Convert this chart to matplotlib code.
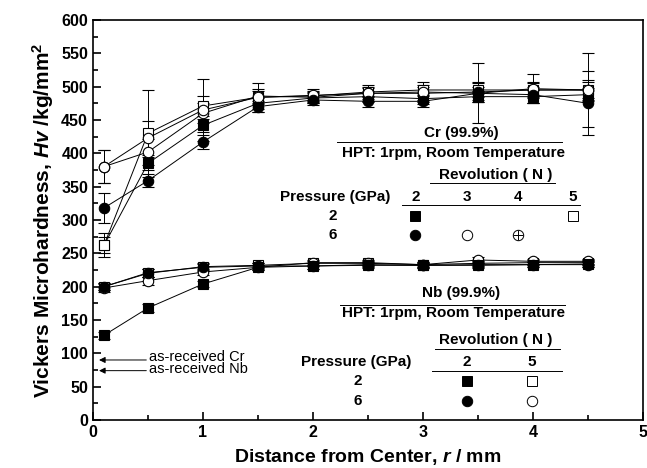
import numpy as np
import matplotlib
matplotlib.use("Agg")
import matplotlib.pyplot as plt

plt.rcParams['font.family'] = ['Liberation Sans', 'DejaVu Sans']
plt.rcParams['mathtext.fontset'] = 'custom'
plt.rcParams['mathtext.it'] = 'Liberation Sans:italic:bold'
plt.rcParams['mathtext.rm'] = 'Liberation Sans:bold'

# distance from center (mm)
r = [0.1, 0.5, 1.0, 1.5, 2.0, 2.5, 3.0, 3.5, 4.0, 4.5]

# Cr (99.9%)
cr_p2_n2 = [262, 385, 442, 475, 483, 485, 482, 485, 485, 488]
cr_p2_n2_err = [12, 10, 10, 8, 8, 8, 8, 8, 10, 10]
cr_p2_n5 = [262, 430, 471, 484, 486, 492, 495, 495, 495, 495]
cr_p2_n5_err = [18, 65, 15, 10, 8, 8, 8, 10, 10, 55]
cr_p6_n2 = [318, 359, 417, 470, 480, 478, 478, 490, 488, 475]
cr_p6_n2_err = [22, 10, 10, 8, 8, 8, 8, 10, 12, 48]
cr_p6_n3 = [380, 402, 460, 486, 484, 490, 490, 492, 495, 495]
cr_p6_n3_err = [25, 20, 15, 10, 8, 8, 10, 15, 12, 12]
cr_p6_n4 = [380, 423, 465, 484, 487, 490, 492, 490, 497, 495]
cr_p6_n4_err = [25, 25, 47, 22, 10, 12, 15, 45, 22, 15]

# Nb (99.9%)
nb_p2_n2 = [127, 168, 204, 229, 231, 233, 232, 233, 233, 234]
nb_p2_n2_err = [5, 6, 5, 4, 4, 4, 4, 4, 4, 4]
nb_p2_n5 = [200, 220, 230, 232, 235, 235, 233, 235, 236, 236]
nb_p2_n5_err = [5, 6, 5, 4, 4, 4, 4, 4, 4, 4]
nb_p6_n2 = [200, 221, 229, 231, 231, 232, 232, 232, 233, 233]
nb_p6_n2_err = [5, 6, 5, 4, 4, 4, 4, 4, 4, 4]
nb_p6_n5 = [198, 209, 222, 229, 236, 236, 233, 240, 238, 238]
nb_p6_n5_err = [6, 6, 5, 4, 4, 4, 4, 4, 4, 4]

as_received_cr = 90
as_received_nb = 74

fig = plt.figure(figsize=(6.47, 4.68), dpi=100)
ax = fig.add_axes([0.1437, 0.1026, 0.8501, 0.8547])

ms = 7.5
def series(y, err, marker, filled, cross=False):
    fc = 'black' if filled else 'white'
    ax.errorbar(r, y, yerr=err, color='black', lw=0.7, elinewidth=0.7,
                capsize=4, capthick=0.7, marker=marker,
                ms=ms if marker == 'o' else ms - 0.5, mfc=fc,
                mec='black', mew=0.8)
    if cross:
        ax.plot(r, y, ls='none', marker='+', ms=ms, color='black', mew=0.7)

series(cr_p2_n2, cr_p2_n2_err, 's', True)
series(cr_p2_n5, cr_p2_n5_err, 's', False)
series(cr_p6_n3, cr_p6_n3_err, 'o', False)
series(cr_p6_n4, cr_p6_n4_err, 'o', False, cross=True)
series(cr_p6_n2, cr_p6_n2_err, 'o', True)

series(nb_p2_n5, nb_p2_n5_err, 's', False)
series(nb_p6_n5, nb_p6_n5_err, 'o', False, cross=True)
series(nb_p2_n2, nb_p2_n2_err, 's', True)
series(nb_p6_n2, nb_p6_n2_err, 'o', True)

# as-received arrows
for val, lab, dy in [(as_received_cr, 'as-received Cr', 5), (as_received_nb, 'as-received Nb', 2)]:
    ax.annotate('', xy=(0.03, val), xytext=(0.51, val),
                arrowprops=dict(arrowstyle='-|>', color='black', lw=0.7,
                                mutation_scale=9))
    ax.text(0.51, val + dy, lab, fontsize=10.5, va='center', ha='left')

def table(ytitle, title, yrev, ypress, rows, cols, colx, line1, line2, line3, rowx, pressx):
    bold = dict(fontsize=11, fontweight='bold', ha='center', va='center')
    ax.text(3.35, ytitle, title, **bold)
    ax.plot(line1[:2], [line1[2]] * 2, color='black', lw=0.7)
    ax.text(3.28, ytitle - 30, 'HPT: 1rpm, Room Temperature', **bold)
    ax.text(3.66, yrev, 'Revolution ( N )', **bold)
    ax.plot(line2[:2], [line2[2]] * 2, color='black', lw=0.7)
    ax.text(pressx, ypress, 'Pressure (GPa)', **bold)
    for cx, c in zip(colx, cols):
        ax.text(cx, ypress, c, **bold)
    ax.plot(line3[:2], [line3[2]] * 2, color='black', lw=0.7)
    for i, (plab, marks) in enumerate(rows):
        yy = ypress - 29 * (i + 1)
        ax.text(rowx, yy, plab, **bold)
        for cx, m in zip(colx, marks):
            if m is None:
                continue
            mk, filled, cross = m
            ax.plot(cx, yy, marker=mk, ms=7.5 if mk == 'o' else 6.5,
                    mfc='black' if filled else 'white', mec='black', mew=0.7,
                    ls='none')
            if cross:
                ax.plot(cx, yy, marker='+', ms=7.5, color='black', mew=0.7)

table(430, 'Cr (99.9%)', 367, 335,
      [('2', [('s', True, False), None, None, ('s', False, False)]),
       ('6', [('o', True, False), ('o', False, False), ('o', False, True), None])],
      ['2', '3', '4', '5'], [2.93, 3.40, 3.86, 4.36],
      (2.22, 4.26, 417), (3.06, 4.2, 355), (2.81, 4.43, 322), 2.18, 2.2)

table(190, 'Nb (99.9%)', 120, 87,
      [('2', [('s', True, False), ('s', False, False)]),
       ('6', [('o', True, False), ('o', False, False)])],
      ['2', '5'], [3.40, 3.99],
      (2.25, 4.29, 172), (3.11, 4.25, 106), (3.08, 4.26, 74), 2.41, 2.39)

ax.set_xlim(0, 5)
ax.set_ylim(0, 600)
ax.set_xticks(np.arange(0, 6, 1))
ax.set_xticks(np.arange(0.5, 5, 1), minor=True)
ax.set_yticks(np.arange(0, 650, 50))
ax.set_yticks(np.arange(25, 600, 50), minor=True)
ax.tick_params(which='both', direction='in', width=1.2)
ax.tick_params(which='major', length=6, labelsize=11.5)
ax.tick_params(which='minor', length=3.5)
for lab in ax.get_xticklabels() + ax.get_yticklabels():
    lab.set_fontweight('bold')
for s in ax.spines.values():
    s.set_linewidth(1.2)

ax.set_xlabel('Distance from Center, $r$ / mm', fontsize=14, fontweight='bold', labelpad=5)
ax.set_ylabel('Vickers Microhardness, $Hv$ /kg/mm$^2$', fontsize=15, fontweight='bold', labelpad=4)

fig.savefig('out.png', dpi=100)
